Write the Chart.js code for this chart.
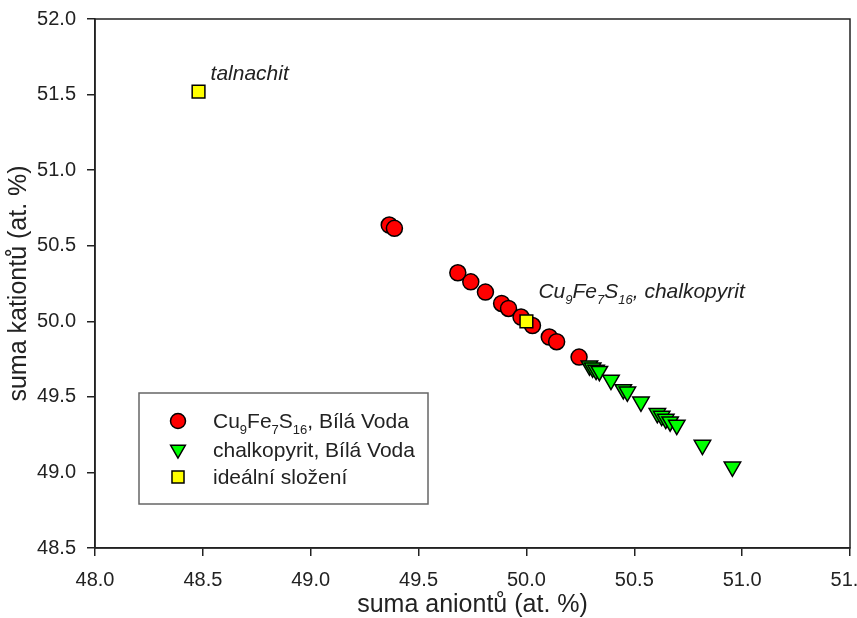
<!DOCTYPE html>
<html><head><meta charset="utf-8">
<script src="https://cdn.jsdelivr.net/npm/chart.js@4.4.0/dist/chart.umd.min.js"></script>
<style>html,body{margin:0;padding:0;background:#fff;}canvas{display:block;}</style>
</head><body>
<canvas id="c" width="857" height="618"></canvas>
<script>
// ---- data ----
const xTicks = [48.0, 48.5, 49.0, 49.5, 50.0, 50.5, 51.0, 51.5];
const yTicks = [48.5, 49.0, 49.5, 50.0, 50.5, 51.0, 51.5, 52.0];

const cuFeAnions  = [49.364, 49.388, 49.682, 49.742, 49.810, 49.885, 49.917, 49.975, 50.028, 50.106, 50.140, 50.244];
const cuFeCations = [50.637, 50.615, 50.321, 50.261, 50.193, 50.118, 50.085, 50.028, 49.972, 49.896, 49.865, 49.763];

const chpAnions  = [50.292, 50.307, 50.323, 50.338, 50.392, 50.449, 50.468, 50.531, 50.607, 50.627, 50.646, 50.666, 50.697, 50.816, 50.955];
const chpCations = [49.706, 49.692, 49.677, 49.670, 49.611, 49.549, 49.533, 49.467, 49.391, 49.373, 49.353, 49.336, 49.313, 49.181, 49.037];

const idealAnions  = [48.48, 50.00];
const idealCations = [51.52, 50.00];
const idealNames = [
  [['talnachit']],
  [['Cu'], ['9', 1], ['Fe'], ['7', 1], ['S'], ['16', 1], [', chalkopyrit']]
];

const legendLabels = [
  [['Cu'], ['9', 1], ['Fe'], ['7', 1], ['S'], ['16', 1], [', Bílá Voda']],
  [['chalkopyrit, Bílá Voda']],
  [['ideální složení']]
];

const xTitle = 'suma aniontů (at. %)';
const yTitle = 'suma kationtů (at. %)';

// ---- styling ----
const FONT = 'Arial, "Liberation Sans", Helvetica, sans-serif';
const INK = '#222';
const colors = ['#ff0000', '#00ff00', '#ffff00'];
const styles = ['circle', 'triangle', 'rect'];
const radii = [8, 9.5, 9];
const rotations = [0, 180, 0];
const orders = [2, 1, 0];

const toPts = (xs, ys) => xs.map((x, i) => ({x: x, y: ys[i]}));

function drawRich(ctx, parts, x, y, size, italic) {
  ctx.save();
  ctx.textBaseline = 'alphabetic';
  ctx.textAlign = 'left';
  let cx = x;
  for (const p of parts) {
    const sub = p[1];
    const fs = sub ? Math.round(size * 0.64) : size;
    ctx.font = (italic ? 'italic ' : '') + fs + 'px ' + FONT;
    ctx.fillText(p[0], cx, sub ? y + size * 0.27 : y);
    cx += ctx.measureText(p[0]).width;
  }
  ctx.restore();
}

const decor = {
  id: 'decor',
  afterDatasetsDraw(chart) {
    const {ctx, chartArea: a, scales: {x, y}} = chart;
    ctx.save();
    // frame
    ctx.strokeStyle = INK;
    ctx.lineWidth = 1.5;
    ctx.strokeRect(a.left, a.top, a.right - a.left, a.bottom - a.top);
    // annotations
    ctx.fillStyle = INK;
    const offs = [[12, -12], [12, -23]];
    idealNames.forEach((parts, i) => {
      const px = x.getPixelForValue(idealAnions[i]);
      const py = y.getPixelForValue(idealCations[i]);
      drawRich(ctx, parts, px + offs[i][0], py + offs[i][1], 21, true);
    });
    // legend box
    const bx = 139, by = 393, bw = 289, bh = 111;
    ctx.fillStyle = '#fff';
    ctx.fillRect(bx, by, bw, bh);
    ctx.strokeStyle = '#666';
    ctx.lineWidth = 1.5;
    ctx.strokeRect(bx, by, bw, bh);
    const rows = [421, 449.5, 477];
    const lr = [7.5, 8.5, 8.5];
    chart.data.datasets.forEach((ds, i) => {
      ctx.fillStyle = ds.backgroundColor;
      ctx.strokeStyle = '#000';
      ctx.lineWidth = 1.5;
      Chart.helpers.drawPoint(ctx, {pointStyle: styles[i], radius: lr[i], rotation: rotations[i], borderWidth: 1.5}, 178, rows[i]);
      ctx.fillStyle = INK;
      drawRich(ctx, legendLabels[i], 213, rows[i] + 7, 21, false);
    });
    ctx.restore();
  }
};

const tickStyle = {color: INK, font: {family: FONT, size: 20}};

new Chart(document.getElementById('c'), {
  type: 'scatter',
  data: {
    datasets: [
      {label: 'Cu9Fe7S16, Bílá Voda', data: toPts(cuFeAnions, cuFeCations)},
      {label: 'chalkopyrit, Bílá Voda', data: toPts(chpAnions, chpCations)},
      {label: 'ideální složení', data: toPts(idealAnions, idealCations)}
    ].map((d, i) => Object.assign(d, {
      backgroundColor: colors[i], borderColor: '#000', borderWidth: 1.5,
      pointStyle: styles[i], pointRadius: radii[i], pointRotation: rotations[i],
      pointHoverRadius: radii[i], showLine: false, order: orders[i]
    }))
  },
  options: {
    responsive: false, animation: false, devicePixelRatio: 1,
    layout: {autoPadding: false, padding: {top: 19, right: 7, left: 0, bottom: 0}},
    plugins: {legend: {display: false}, tooltip: {enabled: false}},
    scales: {
      x: {
        type: 'linear', min: 48, max: 51.5,
        afterBuildTicks: s => { s.ticks = xTicks.map(v => ({value: v})); },
        afterFit: s => { s.height = 70; s.paddingLeft = 0; s.paddingRight = 0; },
        ticks: Object.assign({padding: 12, callback: v => v.toFixed(1), maxRotation: 0, autoSkip: false}, tickStyle),
        grid: {drawOnChartArea: false, drawTicks: true, tickLength: 8, color: INK, lineWidth: 1.5},
        border: {display: true, color: INK, width: 1.5},
        title: {display: true, text: xTitle, color: INK, font: {family: FONT, size: 25}, padding: {top: 0, bottom: -2}}
      },
      y: {
        type: 'linear', min: 48.5, max: 52,
        afterBuildTicks: s => { s.ticks = yTicks.map(v => ({value: v})); },
        afterFit: s => { s.width = 95; s.paddingTop = 0; s.paddingBottom = 0; },
        ticks: Object.assign({padding: 11, callback: v => v.toFixed(1), autoSkip: false}, tickStyle),
        grid: {drawOnChartArea: false, drawTicks: true, tickLength: 8, color: INK, lineWidth: 1.5},
        border: {display: true, color: INK, width: 1.5},
        title: {display: true, text: yTitle, color: INK, font: {family: FONT, size: 25}, padding: {top: 4, bottom: 0}}
      }
    }
  },
  plugins: [decor]
});
</script>
</body></html>
